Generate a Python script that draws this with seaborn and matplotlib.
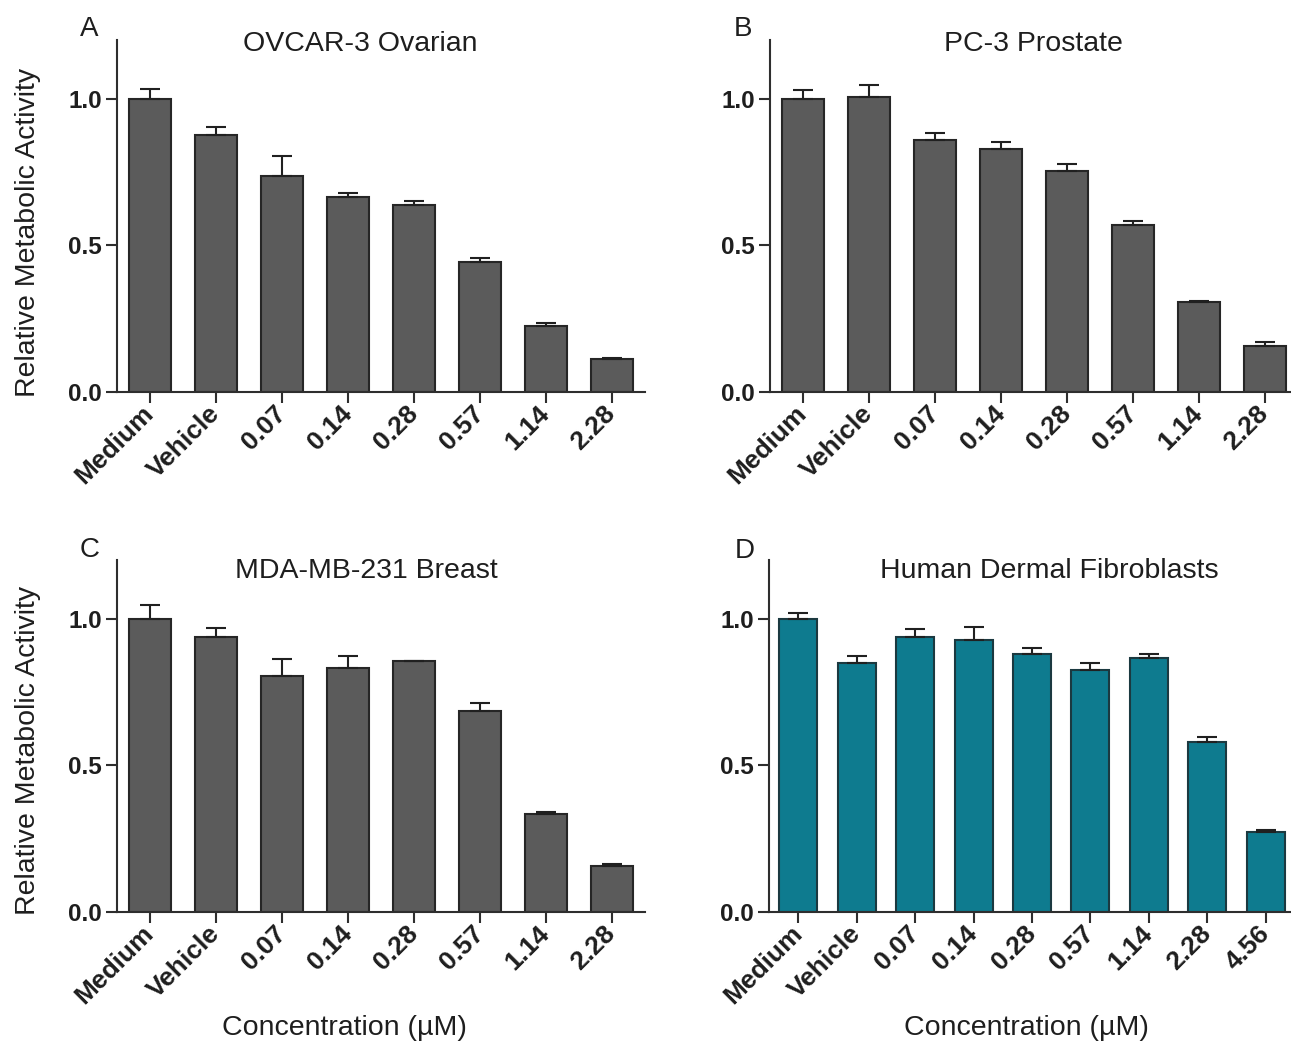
import numpy as np
import pandas as pd
import matplotlib
matplotlib.use("Agg")
import matplotlib.pyplot as plt
import seaborn as sns

# ---- data ----
cats8 = ["Medium", "Vehicle", "0.07", "0.14", "0.28", "0.57", "1.14", "2.28"]
cats9 = ["Medium", "Vehicle", "0.07", "0.14", "0.28", "0.57", "1.14", "2.28", "4.56"]

ovcar_vals = [1.0, 0.875, 0.738, 0.665, 0.638, 0.443, 0.225, 0.112]
ovcar_err = [0.033, 0.029, 0.068, 0.013, 0.013, 0.014, 0.009, 0.005]

pc3_vals = [1.0, 1.005, 0.859, 0.830, 0.752, 0.568, 0.306, 0.156]
pc3_err = [0.028, 0.042, 0.024, 0.023, 0.025, 0.014, 0.004, 0.014]

mda_vals = [1.0, 0.937, 0.806, 0.831, 0.854, 0.684, 0.335, 0.156]
mda_err = [0.048, 0.032, 0.058, 0.042, 0.003, 0.029, 0.007, 0.008]

hdf_vals = [1.0, 0.849, 0.937, 0.927, 0.879, 0.826, 0.865, 0.578, 0.2725]
hdf_err = [0.019, 0.024, 0.029, 0.043, 0.020, 0.023, 0.014, 0.019, 0.008]

ytick_vals = [0.0, 0.5, 1.0]
ytick_labels = ["0.0", "0.5", "1.0"]

GRAY = "#5b5b5b"
GRAY_EDGE = "#262626"
TEAL = "#0e7b8f"
TEAL_EDGE = "#1b3940"
TXT = "#1e1e1e"
AX = "#2e2e2e"

sns.set_theme(style="ticks")
plt.rcParams["font.family"] = ["Liberation Sans", "DejaVu Sans"]

W, H = 1291, 1044
fig = plt.figure(figsize=(W / 100, H / 100), dpi=100)


def rect(left_px, top_px, right_px, bottom_px):
    return [left_px / W, 1 - bottom_px / H, (right_px - left_px) / W, (bottom_px - top_px) / H]


def panel(r, cats, vals, errs, color, edge):
    ax = fig.add_axes(r)
    df = pd.DataFrame({"cat": cats, "val": vals})
    sns.barplot(data=df, x="cat", y="val", order=cats, color=color, saturation=1,
                width=0.65, edgecolor=edge, linewidth=1.5, errorbar=None, ax=ax)
    n = len(cats)
    ax.errorbar(np.arange(n), vals, yerr=[np.zeros(n), errs], fmt="none",
                ecolor="#202020", elinewidth=1.5, capsize=7.5, capthick=1.5, zorder=3)
    ax.set_xlim(-0.5, n - 0.5)
    ax.set_ylim(0, 1.2)
    ax.set_yticks(ytick_vals)
    ax.set_yticklabels(ytick_labels)
    ax.set_xlabel("")
    ax.set_ylabel("")
    sns.despine(ax=ax)
    for s in ["left", "bottom"]:
        ax.spines[s].set_color(AX)
        ax.spines[s].set_linewidth(1.5)
    ax.tick_params(axis="both", length=8, width=1.5, color=AX, labelcolor=TXT)
    ax.tick_params(axis="y", pad=3, labelsize=17.5)
    ax.tick_params(axis="x", pad=5, labelsize=19)
    for lbl in ax.get_yticklabels():
        lbl.set_fontweight("bold")
    for lbl in ax.get_xticklabels():
        lbl.set_fontweight("bold")
        lbl.set_rotation(45)
        lbl.set_ha("right")
        lbl.set_va("center")
        lbl.set_rotation_mode("anchor")
    return ax


axA = panel(rect(117, 40, 645, 392), cats8, ovcar_vals, ovcar_err, GRAY, GRAY_EDGE)
axB = panel(rect(770, 40, 1298, 392), cats8, pc3_vals, pc3_err, GRAY, GRAY_EDGE)
axC = panel(rect(117, 560, 645, 912), cats8, mda_vals, mda_err, GRAY, GRAY_EDGE)
axD = panel(rect(769, 560, 1295, 912), cats9, hdf_vals, hdf_err, TEAL, TEAL_EDGE)


def ftext(px, py, s, **kw):
    fig.text(px / W, 1 - py / H, s, ha="center", va="center", color=TXT, **kw)


ftext(89, 29, "A", fontsize=20)
ftext(743, 29, "B", fontsize=20)
ftext(90, 550, "C", fontsize=20)
ftext(745, 551, "D", fontsize=20)

ftext(360, 44, "OVCAR-3 Ovarian", fontsize=20.5)
ftext(1033, 44, "PC-3 Prostate", fontsize=20.5)
ftext(366, 571, "MDA-MB-231 Breast", fontsize=20.5)
ftext(1049, 571, "Human Dermal Fibroblasts", fontsize=20.5)

ftext(28, 232, "Relative Metabolic Activity", fontsize=20.5, rotation=90)
ftext(28, 750, "Relative Metabolic Activity", fontsize=20.5, rotation=90)

ftext(344, 1028, "Concentration (µM)", fontsize=20.5)
ftext(1026, 1028, "Concentration (µM)", fontsize=20.5)

fig.savefig("out.png", dpi=100, facecolor="white")
